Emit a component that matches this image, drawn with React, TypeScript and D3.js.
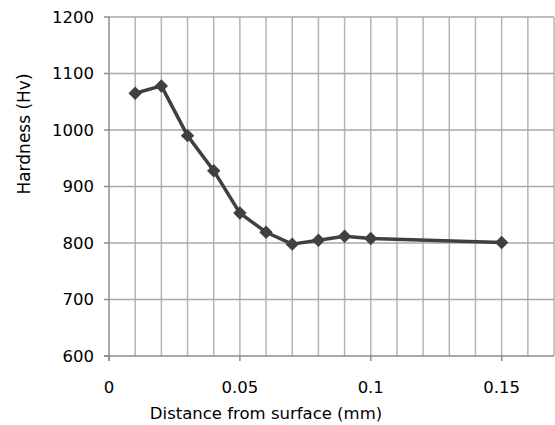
import React from "react";
import * as d3 from "d3";

const distances = [0.01, 0.02, 0.03, 0.04, 0.05, 0.06, 0.07, 0.08, 0.09, 0.1, 0.15];
const hardness = [1065, 1078, 990, 928, 853, 819, 798, 805, 812, 808, 801];
const xTicks = [0, 0.05, 0.1, 0.15];
const xTickLabels = ["0", "0.05", "0.1", "0.15"];
const yTicks = [600, 700, 800, 900, 1000, 1100, 1200];
const xGrid = d3.range(1, 18).map((i) => i / 100);

const W = 555;
const H = 425;
const FONT = "'DejaVu Sans', sans-serif";

export default function App() {
  const x = d3.scaleLinear().domain([0, 0.17]).range([109, 554]);
  const y = d3.scaleLinear().domain([600, 1200]).range([356, 17]);
  const line = d3
    .line<number>()
    .x((_, i) => x(distances[i]))
    .y((d) => y(d));
  const diamond = d3.symbol().type(d3.symbolDiamond2).size(115)();

  return (
    <svg
      width={W}
      height={H}
      style={{ position: "absolute", left: 0, top: 0, background: "#fff" }}
    >
      {/* vertical grid */}
      {xGrid.map((v, i) => (
        <line key={"vg" + i} x1={x(v)} x2={x(v)} y1={y(1200)} y2={y(600)} stroke="#b4b4b4" strokeWidth={1.5} />
      ))}
      {/* horizontal grid */}
      {yTicks.slice(1).map((v) => (
        <line key={"hg" + v} x1={x(0)} x2={x(0.17)} y1={y(v)} y2={y(v)} stroke="#a8a8a8" strokeWidth={1.5} />
      ))}
      {/* axes */}
      <line x1={x(0)} x2={x(0)} y1={y(1200)} y2={y(600) + 5} stroke="#8c8c8c" strokeWidth={1.5} />
      <line x1={x(0) - 5} x2={x(0.17)} y1={y(600)} y2={y(600)} stroke="#8c8c8c" strokeWidth={1.5} />
      {yTicks.map((v) => (
        <line key={"yt" + v} x1={x(0) - 5} x2={x(0)} y1={y(v)} y2={y(v)} stroke="#8c8c8c" strokeWidth={1.5} />
      ))}
      {xTicks.map((v) => (
        <line key={"xt" + v} x1={x(v)} x2={x(v)} y1={y(600)} y2={y(600) + 5} stroke="#8c8c8c" strokeWidth={1.5} />
      ))}
      {/* tick labels */}
      {yTicks.map((v) => (
        <text key={"yl" + v} x={94} y={y(v)} dy="0.36em" textAnchor="end" fontFamily={FONT} fontSize={16.5} fill="#000">
          {v}
        </text>
      ))}
      {xTicks.map((v, i) => (
        <text key={"xl" + v} x={x(v)} y={393} textAnchor="middle" fontFamily={FONT} fontSize={16.5} fill="#000">
          {xTickLabels[i]}
        </text>
      ))}
      {/* titles */}
      <text x={266} y={419} textAnchor="middle" fontFamily={FONT} fontSize={16.5} fill="#000">
        Distance from surface (mm)
      </text>
      <text
        transform={`translate(30,134) rotate(-90)`}
        textAnchor="middle"
        fontFamily={FONT}
        fontSize={17}
        fill="#000"
      >
        Hardness (Hv)
      </text>
      {/* series */}
      <path d={line(hardness) || ""} fill="none" stroke="#404040" strokeWidth={3.5} strokeLinejoin="round" />
      {hardness.map((v, i) => (
        <path key={"m" + i} d={diamond || ""} transform={`translate(${x(distances[i])},${y(v)})`} fill="#404040" />
      ))}
    </svg>
  );
}
